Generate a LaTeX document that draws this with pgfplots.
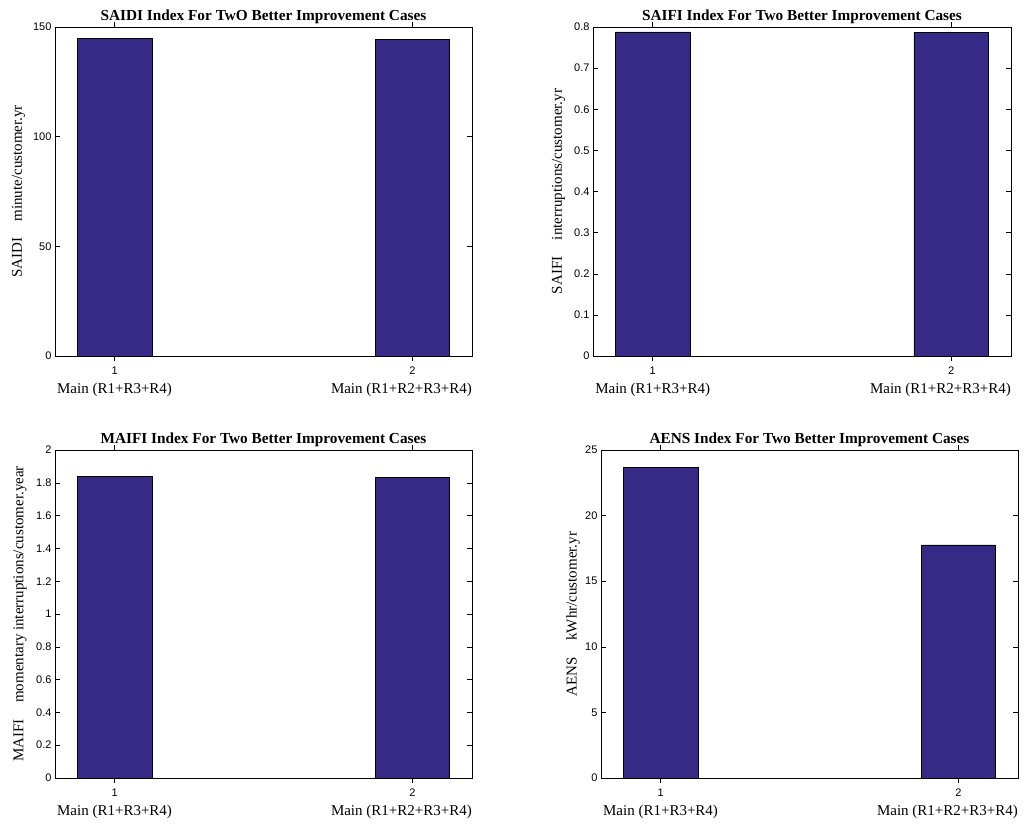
\documentclass[border=0pt]{standalone}
\usepackage{pgfplots}
\pgfplotsset{compat=1.18}
\usepackage{fontspec}
\setmainfont{Liberation Serif}
\setsansfont{Liberation Sans}
\definecolor{barc}{RGB}{54,42,134}
\pgfplotsset{
  panel/.style={
    scale only axis, anchor=south west, clip=false,
    xmin=0.8, xmax=2.2, xtick={1,2}, xticklabels={1,2},
    ymin=0,
    tick align=inside, major tick length=5pt,
    ticklabel style={font=\fontsize{11}{13}\selectfont\sffamily},
    /pgf/number format/assume math mode=true,
    x tick label style={anchor=north, yshift=-2pt},
    title style={at={(0.5,1)}, anchor=base, yshift=0.5pt, font=\fontsize{15.3}{17}\selectfont\bfseries},
    axis line style={black, line width=0.6pt},
    every tick/.style={black, line width=0.5pt},
    ybar, bar width=0.25,
  },
  bars/.style={fill=barc, draw=black, line width=0.6pt},
  ylab/.style={every axis y label/.style={at={(axis description cs:#1,0.5)}, rotate=90, anchor=center, font=\fontsize{15}{17}\selectfont}},
}
\newcommand{\mainlabels}[1]{%
  \node[anchor=base, inner sep=0, font=\fontsize{15}{17}\selectfont] at (axis cs:1,0) [yshift=-37pt] {Main (R1+R3+R4)};
  \node[anchor=base east, inner sep=0, font=\fontsize{15}{17}\selectfont] at (axis cs:2.2,0) [yshift=-37pt] {Main (R1+R2+R3+R4)};
}
\begin{document}
\begin{tikzpicture}
\path[use as bounding box] (0pt,0pt) rectangle (1027pt,823pt);
% SAIDI
\begin{axis}[panel, at={(55pt,467pt)}, width=417pt, height=329pt,
  ymax=150, ytick={0,50,100,150}, ylab={-0.0875},
  title={SAIDI Index For TwO Better Improvement Cases},
  ylabel={SAIDI\hspace{1.1em}minute/customer.yr}]
\addplot[bars] coordinates {(1,144.8) (2,144.5)};
\mainlabels{}
\end{axis}
% SAIFI
\begin{axis}[panel, at={(593pt,467pt)}, width=418pt, height=329pt,
  ymax=0.8, ytick={0,0.1,0.2,0.3,0.4,0.5,0.6,0.7,0.8}, ylab={-0.0825},
  title={SAIFI Index For Two Better Improvement Cases},
  ylabel={SAIFI\hspace{1.1em}interruptions/customer.yr}]
\addplot[bars] coordinates {(1,0.788) (2,0.787)};
\mainlabels{}
\end{axis}
% MAIFI
\begin{axis}[panel, at={(55pt,45pt)}, width=417pt, height=328pt,
  ymax=2, ytick={0,0.2,0.4,0.6,0.8,1,1.2,1.4,1.6,1.8,2}, ylab={-0.084},
  title={MAIFI Index For Two Better Improvement Cases},
  ylabel={MAIFI\hspace{1.1em}momentary interruptions/customer.year}]
\addplot[bars] coordinates {(1,1.837) (2,1.835)};
\mainlabels{}
\end{axis}
% AENS
\begin{axis}[panel, at={(601pt,45pt)}, width=417pt, height=328pt,
  ymax=25, ytick={0,5,10,15,20,25}, ylab={-0.067},
  title={AENS Index For Two Better Improvement Cases},
  ylabel={AENS\hspace{1.1em}kWhr/customer.yr}]
\addplot[bars] coordinates {(1,23.65) (2,17.76)};
\mainlabels{}
\end{axis}
\end{tikzpicture}
\end{document}
